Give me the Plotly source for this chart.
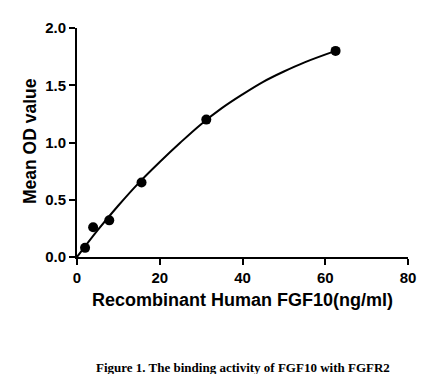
import plotly.graph_objects as go

# Measured data points
conc = [1.95, 3.9, 7.8, 15.6, 31.25, 62.5]
od = [0.08, 0.26, 0.32, 0.65, 1.20, 1.80]

# Fitted curve
curve_x = [0, 5, 10, 15, 20, 25, 30, 35, 40, 45, 50, 55, 62.5]
curve_y = [0.0, 0.235, 0.45, 0.65, 0.83, 1.0, 1.16, 1.30, 1.42, 1.53, 1.62, 1.70, 1.80]

x_ticks = [0, 20, 40, 60, 80]
y_ticks = [0.0, 0.5, 1.0, 1.5, 2.0]

x_title = "Recombinant Human FGF10(ng/ml)"
y_title = "Mean OD value"
caption = "Figure 1. The binding activity of FGF10 with FGFR2"

OFF = 8  # page body margin
W, H = 445 - OFF, 374 - OFF
# plot area in window pixels: x 77..408, y 28..257
L, T = 77 - OFF, 28 - OFF
R = W - (408 - OFF)
B = H - (257 - OFF)
pw, ph = W - L - R, H - T - B

fig = go.Figure()
fig.add_trace(go.Scatter(x=curve_x, y=curve_y, mode="lines",
                         line=dict(color="black", width=2, shape="spline"),
                         hoverinfo="skip", showlegend=False))
fig.add_trace(go.Scatter(x=conc, y=od, mode="markers",
                         marker=dict(color="black", size=10),
                         cliponaxis=False, showlegend=False))

tickfont = dict(family="Arial, Liberation Sans, sans-serif", size=15, color="black", weight="bold")
axis_common = dict(showline=True, linecolor="black", linewidth=2, ticks="outside",
                   ticklen=6, tickwidth=2, tickcolor="black", showgrid=False,
                   zeroline=False, tickfont=tickfont, fixedrange=True)

fig.update_xaxes(range=[0, 80], tickvals=x_ticks, ticktext=[str(v) for v in x_ticks],
                 **axis_common)
fig.update_yaxes(range=[0, 2], tickvals=y_ticks, ticktext=[f"{v:.1f}" for v in y_ticks],
                 **axis_common)

def px_to_paper_x(px):
    # px in window coordinates
    return (px - OFF - L) / pw

def px_to_paper_y(py):
    return (H - B - (py - OFF)) / ph

fig.add_annotation(text=x_title, xref="paper", yref="paper",
                   x=px_to_paper_x(242.5), y=px_to_paper_y(300),
                   xanchor="center", yanchor="middle", showarrow=False,
                   font=dict(family="Arial, Liberation Sans, sans-serif", size=18,
                             color="black", weight="bold"))
fig.add_annotation(text=y_title, xref="paper", yref="paper",
                   x=px_to_paper_x(30), y=px_to_paper_y(141), textangle=-90,
                   xanchor="center", yanchor="middle", showarrow=False,
                   font=dict(family="Arial, Liberation Sans, sans-serif", size=17.5,
                             color="black", weight="bold"))
fig.add_annotation(text=caption, xref="paper", yref="paper",
                   x=px_to_paper_x(243), y=px_to_paper_y(358),
                   xanchor="center", yanchor="top", showarrow=False,
                   font=dict(family="Times New Roman, Liberation Serif, serif", size=13,
                             color="black", weight="bold"))

fig.update_layout(width=W, height=H, margin=dict(l=L, r=R, t=T, b=B, autoexpand=False),
                  paper_bgcolor="white", plot_bgcolor="white", showlegend=False)

fig.write_html("out.html", config={"displayModeBar": False})
